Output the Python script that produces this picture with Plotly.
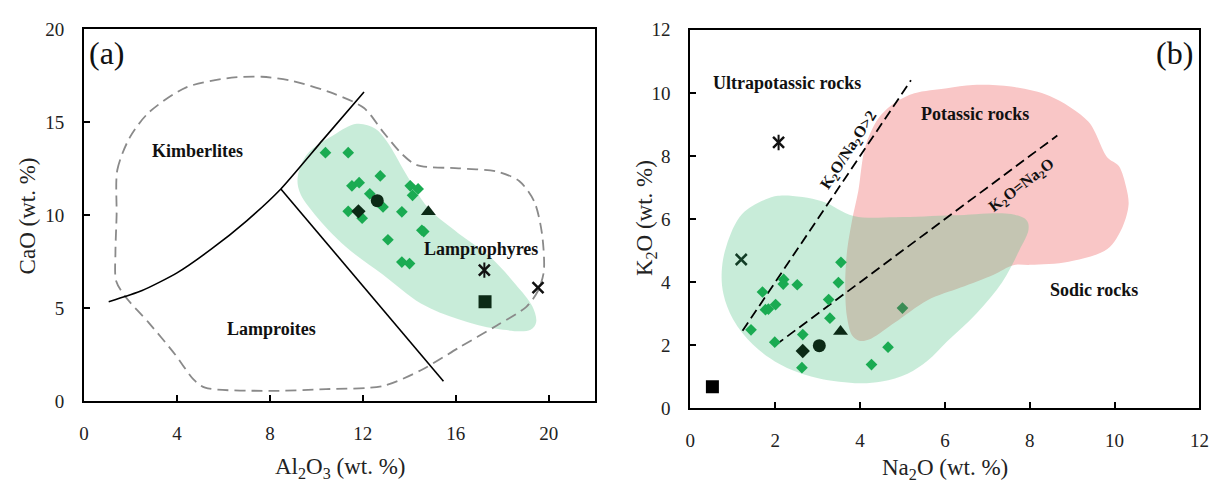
import plotly.graph_objects as go

# ---------------- Panel (a): CaO vs Al2O3 ----------------
a_al2o3 = [10.39, 11.37, 12.75, 11.53, 11.84, 12.30, 14.04, 14.38, 14.14,
           11.37, 11.97, 12.87, 13.68, 14.54, 14.62, 13.08, 13.68, 14.01]
a_cao = [13.36, 13.36, 12.11, 11.58, 11.75, 11.15, 11.58, 11.41, 11.07,
         10.21, 9.84, 10.44, 10.18, 9.19, 9.12, 8.68, 7.48, 7.40]

a_diamond = (11.81, 10.21)
a_circle = (12.62, 10.78)
a_triangle = (14.82, 10.18)
a_star = (17.23, 7.05)
a_square = (17.26, 5.35)
a_cross = (19.54, 6.11)

# Kimberlite / lamproite boundary curve and lamproite / lamprophyre line
a_curve_x = [1.06, 2.50, 4.00, 5.50, 7.00, 8.47, 10.26, 12.05]
a_curve_y = [5.35, 5.95, 6.90, 8.20, 9.70, 11.41, 14.02, 16.62]
a_line_x = [8.47, 15.47]
a_line_y = [11.41, 1.08]

# Dashed outline of the combined field
a_field_x = [1.40, 1.43, 1.95, 2.77, 4.40, 6.35, 7.65, 8.96, 10.75, 12.05, 12.87,
             13.68, 14.33, 16.12, 17.75, 18.73, 19.38, 19.71, 19.79, 19.54, 19.05,
             17.75, 16.12, 14.50, 12.87, 10.42, 7.98, 5.21, 4.72, 3.91, 2.77, 1.79,
             1.38, 1.35, 1.40]
a_field_y = [10.0, 12.43, 14.14, 15.5, 16.87, 17.39, 17.44, 17.22, 16.53, 15.76, 14.48,
             13.29, 12.69, 12.52, 12.35, 11.84, 10.73, 9.02, 6.97, 5.94, 5.09,
             4.06, 2.87, 1.67, 0.82, 0.65, 0.56, 0.73, 1.16, 2.53, 4.24, 5.6,
             6.46, 8.0, 10.0]

# Shaded field of the samples
a_zone_x = [11.73, 12.54, 13.03, 13.84, 14.82, 16.12, 17.43, 18.57, 19.30, 19.46, 19.22,
            17.75, 16.12, 14.50, 12.87, 11.24, 9.93, 9.28, 9.20, 9.61, 10.75, 11.73]
a_zone_y = [14.91, 14.65, 13.97, 12.26, 10.38, 9.02, 7.82, 6.29, 5.09, 4.24, 3.84,
            3.89, 4.41, 5.26, 6.80, 8.33, 10.04, 11.24, 12.09, 13.29, 14.31, 14.91]

# ---------------- Panel (b): K2O vs Na2O ----------------
b_na2o = [1.70, 1.77, 1.84, 2.01, 1.43, 1.99, 2.20, 2.19, 2.52, 3.26, 3.29, 2.65,
          2.63, 3.49, 3.55, 4.27, 4.66, 5.00]
b_k2o = [3.69, 3.13, 3.15, 3.29, 2.49, 2.10, 4.09, 3.94, 3.92, 3.45, 2.86, 2.34,
         1.29, 3.99, 4.63, 1.39, 1.94, 3.18]

b_diamond = (2.65, 1.82)
b_circle = (3.04, 1.99)
b_triangle = (3.54, 2.44)
b_star = (2.08, 8.43)
b_square = (0.52, 0.69)
b_cross = (1.20, 4.72)

# Reference lines K2O/Na2O = 2 and K2O = Na2O
b_ratio2_na = [1.23, 5.20]
b_ratio1_na = [2.00, 8.65]

# Potassic-rock field
b_pot_x = [4.00, 3.81, 3.69, 3.65, 3.69, 3.81, 3.96, 4.12, 4.43, 4.82, 5.28, 6.05,
           6.66, 7.56, 8.47, 9.38, 9.83, 10.10, 10.28, 10.33, 10.19, 9.83, 8.92,
           8.02, 7.61, 7.15, 6.37, 5.59, 4.82, 4.27, 4.00]
b_pot_y = [2.14, 2.32, 2.92, 3.93, 4.94, 5.95, 6.90, 8.28, 9.19, 9.69, 9.99, 10.15,
           10.25, 10.20, 9.90, 9.09, 7.95, 7.68, 6.97, 6.46, 5.76, 5.05, 4.65,
           4.55, 4.54, 4.24, 3.83, 3.43, 2.72, 2.22, 2.14]

# Shaded field of the samples
b_zone_x = [2.20, 3.10, 3.85, 4.85, 6.20, 7.56, 7.93, 7.97, 7.75, 7.35, 6.75, 6.05,
            5.59, 5.12, 4.51, 3.88, 2.87, 2.10, 1.48, 1.01, 0.78, 0.74, 0.85, 1.22,
            1.86, 2.20]
b_zone_y = [6.75, 6.57, 6.10, 6.06, 6.12, 6.16, 5.96, 5.66, 5.00, 4.00, 3.02, 2.12,
            1.51, 1.10, 0.85, 0.80, 1.00, 1.41, 2.02, 2.82, 3.63, 4.34, 5.15, 6.16,
            6.67, 6.75]

SERIF = "Liberation Serif"
DARK = "#0c2a16"
GREEN = "#1aab52"
ZONE = "rgba(83,196,136,0.32)"
PINK = "rgb(249,198,198)"

fig = go.Figure()


def add_marker(xs, ys, xa, ya, symbol, size, color, line_w=0):
    is_open = symbol.endswith("-open")
    fig.add_trace(go.Scatter(
        x=list(xs), y=list(ys), xaxis=xa, yaxis=ya, mode="markers",
        marker=dict(symbol=symbol, size=size,
                    color=color,
                    line=dict(width=line_w if is_open else 0, color=color)),
        showlegend=False, hoverinfo="skip"))


# ---- panel (a) ----
fig.add_trace(go.Scatter(x=a_zone_x, y=a_zone_y, xaxis="x", yaxis="y", mode="lines",
                         line=dict(width=0, shape="spline", smoothing=1.0),
                         fill="toself", fillcolor=ZONE, showlegend=False, hoverinfo="skip"))
fig.add_trace(go.Scatter(x=a_field_x, y=a_field_y, xaxis="x", yaxis="y", mode="lines",
                         line=dict(color="#8a8a8a", width=1.8, dash="11px,6px",
                                   shape="spline", smoothing=0.8),
                         showlegend=False, hoverinfo="skip"))
fig.add_trace(go.Scatter(x=a_curve_x, y=a_curve_y, xaxis="x", yaxis="y", mode="lines",
                         line=dict(color="black", width=1.6, shape="spline", smoothing=0.6),
                         showlegend=False, hoverinfo="skip"))
fig.add_trace(go.Scatter(x=a_line_x, y=a_line_y, xaxis="x", yaxis="y", mode="lines",
                         line=dict(color="black", width=1.6),
                         showlegend=False, hoverinfo="skip"))

add_marker(a_al2o3, a_cao, "x", "y", "diamond", 9, GREEN)
add_marker([a_diamond[0]], [a_diamond[1]], "x", "y", "diamond", 11, DARK)
add_marker([a_circle[0]], [a_circle[1]], "x", "y", "circle", 13, DARK)
add_marker([a_triangle[0]], [a_triangle[1]], "x", "y", "triangle-up", 13, DARK)
add_marker([a_star[0]], [a_star[1]], "x", "y", "x-thin-open", 11, "#111111", 2.5)
add_marker([a_star[0]], [a_star[1]], "x", "y", "line-ns-open", 11, "#111111", 2.0)
add_marker([a_square[0]], [a_square[1]], "x", "y", "square", 13, DARK)
add_marker([a_cross[0]], [a_cross[1]], "x", "y", "x-thin-open", 11, "#111111", 2.5)

# ---- panel (b) ----
fig.add_trace(go.Scatter(x=b_pot_x, y=b_pot_y, xaxis="x2", yaxis="y2", mode="lines",
                         line=dict(width=0, shape="spline", smoothing=0.9),
                         fill="toself", fillcolor=PINK, showlegend=False, hoverinfo="skip"))
fig.add_trace(go.Scatter(x=b_zone_x, y=b_zone_y, xaxis="x2", yaxis="y2", mode="lines",
                         line=dict(width=0, shape="spline", smoothing=1.0),
                         fill="toself", fillcolor=ZONE, showlegend=False, hoverinfo="skip"))
fig.add_trace(go.Scatter(x=b_ratio2_na, y=[2 * v for v in b_ratio2_na], xaxis="x2", yaxis="y2",
                         mode="lines", line=dict(color="black", width=1.8, dash="10px,5px"),
                         showlegend=False, hoverinfo="skip"))
fig.add_trace(go.Scatter(x=b_ratio1_na, y=list(b_ratio1_na), xaxis="x2", yaxis="y2",
                         mode="lines", line=dict(color="black", width=1.8, dash="10px,5px"),
                         showlegend=False, hoverinfo="skip"))

b_colors = [GREEN] * (len(b_na2o) - 1) + ["#3b8c55"]
add_marker(b_na2o, b_k2o, "x2", "y2", "diamond", 9, b_colors)
add_marker([b_diamond[0]], [b_diamond[1]], "x2", "y2", "diamond", 11, DARK)
add_marker([b_circle[0]], [b_circle[1]], "x2", "y2", "circle", 13, DARK)
add_marker([b_triangle[0]], [b_triangle[1]], "x2", "y2", "triangle-up", 13, DARK)
add_marker([b_star[0]], [b_star[1]], "x2", "y2", "x-thin-open", 11, "#111111", 2.5)
add_marker([b_star[0]], [b_star[1]], "x2", "y2", "line-ns-open", 11, "#111111", 2.0)
add_marker([b_square[0]], [b_square[1]], "x2", "y2", "square", 13, "black")
add_marker([b_cross[0]], [b_cross[1]], "x2", "y2", "x-thin-open", 11, "#123d26", 2.5)

W, H = 1220, 484
ax_common = dict(showline=True, linecolor="black", linewidth=2, mirror=True,
                 ticks="inside", ticklen=6, tickwidth=1.5, tickcolor="black",
                 showgrid=False, zeroline=False,
                 tickfont=dict(family=SERIF, size=19, color="#222222"))

fig.update_layout(
    width=W, height=H,
    margin=dict(l=0, r=0, t=0, b=0),
    paper_bgcolor="white", plot_bgcolor="white",
    showlegend=False,
    xaxis=dict(domain=[80 / W, 597 / W], range=[0, 22], tickvals=[0, 4, 8, 12, 16, 20],
               anchor="y", ticklabelstandoff=14, **ax_common),
    yaxis=dict(domain=[1 - 409 / H, 1 - 20 / H], range=[0, 20], tickvals=[0, 5, 10, 15, 20],
               anchor="x", ticklabelstandoff=14, **ax_common),
    xaxis2=dict(domain=[693.3 / W, 1208.3 / W], range=[0, 12], dtick=2,
                anchor="y2", ticklabelstandoff=14, **ax_common),
    yaxis2=dict(domain=[1 - 416.5 / H, 1 - 20.7 / H], range=[0, 12], dtick=2,
                anchor="x2", ticklabelstandoff=14, **ax_common),
)

ann = []


def label(text, x, y, xref, yref, size=18, bold=True, angle=0, xanchor="center"):
    ann.append(dict(text=f"<b>{text}</b>" if bold else text, x=x, y=y, xref=xref, yref=yref,
                    showarrow=False, textangle=angle, xanchor=xanchor, yanchor="middle",
                    font=dict(family=SERIF, size=size, color="#111111")))


# region names, panel (a)
label("Kimberlites", 4.89, 13.46, "x", "y")
label("Lamproites", 8.06, 3.89, "x", "y")
label("Lamprophyres", 17.1, 8.16, "x", "y")
label("(a)", 0.12, 18.7, "x", "y", size=32, bold=False, xanchor="left")

# region names, panel (b)
label("Ultrapotassic rocks", 2.29, 10.32, "x2", "y2")
label("Potassic rocks", 6.72, 9.32, "x2", "y2")
label("Sodic rocks", 9.51, 3.74, "x2", "y2")
label("K<sub>2</sub>O/Na<sub>2</sub>O&gt;2", 3.73, 8.18, "x2", "y2", size=16, angle=-57)
label("K<sub>2</sub>O=Na<sub>2</sub>O", 7.81, 7.07, "x2", "y2", size=16, angle=-37.5)
label("(b)", 11.9, 11.26, "x2", "y2", size=32, bold=False, xanchor="right")

# axis titles
title_font = dict(family=SERIF, size=23, color="#222222")
ann += [
    dict(text="Al<sub>2</sub>O<sub>3</sub> (wt. %)", x=338.5 / W, y=1 - 479 / H, xref="paper",
         yref="paper", showarrow=False, xanchor="center", yanchor="middle", font=title_font),
    dict(text="CaO (wt. %)", x=23 / W, y=1 - 215 / H, xref="paper", yref="paper",
         showarrow=False, textangle=-90, xanchor="center", yanchor="middle", font=title_font),
    dict(text="Na<sub>2</sub>O (wt. %)", x=951 / W, y=1 - 480 / H, xref="paper",
         yref="paper", showarrow=False, xanchor="center", yanchor="middle", font=title_font),
    dict(text="K<sub>2</sub>O (wt. %)", x=648 / W, y=1 - 218 / H, xref="paper", yref="paper",
         showarrow=False, textangle=-90, xanchor="center", yanchor="middle", font=title_font),
]
fig.update_layout(annotations=ann)

fig.write_html("out.html")
